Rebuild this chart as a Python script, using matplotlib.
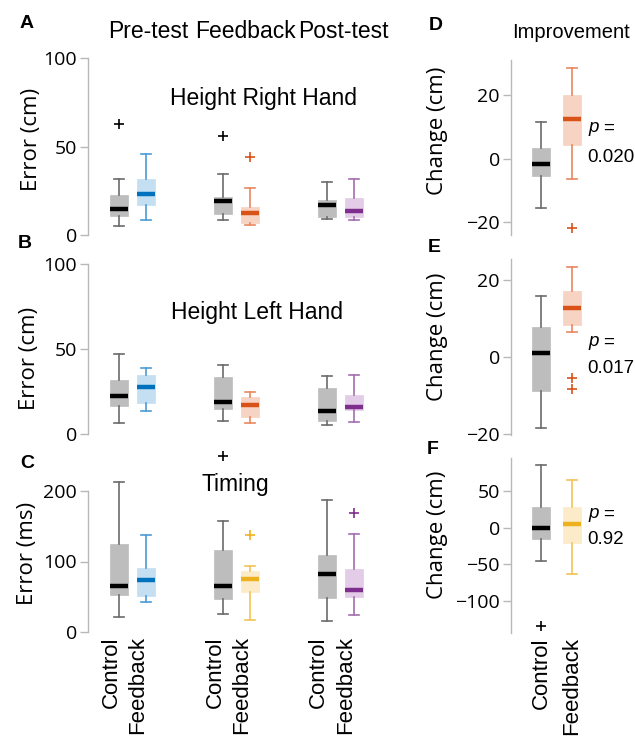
import matplotlib
matplotlib.use("Agg")
import matplotlib.pyplot as plt
from matplotlib.transforms import ScaledTranslation

plt.rcParams['font.family'] = ['Liberation Sans', 'DejaVu Sans']

# box summaries: (whisker low, q1, median, q3, whisker high, outliers)
# order: pre control, pre feedback, fb control, fb feedback, post control, post feedback
right_hand = [
    (5.1, 10.8, 14.9, 22.6, 31.5, [62.8]),
    (8.5, 17.0, 23.2, 31.5, 45.7, []),
    (8.5, 11.7, 19.2, 21.7, 34.3, [55.7]),
    (5.5, 7.0, 12.6, 16.0, 26.4, [44.3]),
    (9.2, 10.0, 16.8, 19.8, 30.2, []),
    (8.5, 10.4, 13.6, 21.1, 31.5, []),
]
left_hand = [
    (6.3, 16.4, 22.1, 31.5, 47.0, []),
    (13.7, 18.0, 27.8, 34.6, 39.1, []),
    (7.4, 14.9, 18.8, 33.3, 40.7, []),
    (6.7, 9.8, 16.8, 21.9, 25.0, []),
    (5.5, 7.4, 13.7, 27.0, 33.9, []),
    (7.2, 14.1, 15.9, 22.9, 34.6, []),
]
timing = [
    (21.7, 52.5, 65.7, 124.3, 212.3, []),
    (42.6, 51.0, 73.3, 90.3, 138.0, []),
    (26.0, 47.3, 65.2, 116.3, 157.4, [249.0]),
    (17.0, 56.7, 75.7, 86.5, 93.6, [137.6]),
    (16.0, 48.2, 82.3, 109.2, 187.7, []),
    (23.6, 50.0, 59.6, 88.9, 139.4, [168.3]),
]
# improvement: control, feedback
impr_right = [
    (-15.5, -5.4, -1.6, 3.5, 11.5, []),
    (-6.5, 4.3, 12.5, 20.0, 28.6, [-21.8]),
]
impr_left = [
    (-18.4, -9.0, 1.1, 7.7, 15.8, []),
    (6.5, 8.2, 12.8, 17.0, 23.3, [-5.5, -8.4]),
]
impr_timing = [
    (-45.5, -15.5, -1.0, 28.6, 85.5, [-133.6]),
    (-62.3, -20.5, 4.5, 27.7, 65.0, []),
]
p_values = ['0.020', '0.017', '0.92']

conditions = ['Pre-test', 'Feedback', 'Post-test']
groups = ['Control', 'Feedback']

GREY = ('#000000', '#bdbdbd', '#6b6b6b')
BLUE = ('#0072BD', '#c4dff2', '#4a9bd6')
ORANGE = ('#D95319', '#f7d3c3', '#e8875f')
YELLOW = ('#EDB120', '#fcebc8', '#f2c458')
PURPLE = ('#7E2F8E', '#e3cce7', '#a46db0')

HUMAN = ['Open Sans', 'DejaVu Sans']

W, H = 635, 738
fig = plt.figure(figsize=(W / 100, H / 100), dpi=100)


def rect(x0, y0, x1, y1):
    return [x0 / W, 1 - y1 / H, (x1 - x0) / W, (y1 - y0) / H]


def ftext(x, y, s, **kw):
    fig.text(x / W, 1 - y / H, s, **kw)


def draw_boxes(ax, data, positions, styles, width, capw):
    for (lo, q1, med, q3, hi, fl), pos, (mc, fc, wc) in zip(data, positions, styles):
        st = dict(whislo=lo, q1=q1, med=med, q3=q3, whishi=hi, fliers=fl)
        art = ax.bxp([st], positions=[pos], widths=width, capwidths=capw,
                     patch_artist=True, showfliers=True,
                     boxprops=dict(facecolor=fc, edgecolor=fc, linewidth=0.5),
                     medianprops=dict(color=mc, linewidth=3.2, solid_capstyle='butt'),
                     whiskerprops=dict(color=wc, linewidth=1.2),
                     capprops=dict(color=wc, linewidth=1.2),
                     flierprops=dict(marker='+', markeredgecolor=mc,
                                     markersize=7, markeredgewidth=1.2))
        for key in art:
            for a in art[key]:
                a.set_clip_on(False)


def style_axis(ax, ylim, yticks, xlim):
    ax.set_ylim(*ylim)
    ax.set_xlim(*xlim)
    ax.set_yticks(yticks)
    for s in ['top', 'right', 'bottom']:
        ax.spines[s].set_visible(False)
    ax.spines['left'].set_color('#b8b8b8')
    ax.spines['left'].set_linewidth(1.0)
    ax.tick_params(axis='y', direction='out', length=6, width=1.0,
                   color='#b8b8b8', labelsize=14, pad=2)
    for lab in ax.get_yticklabels():
        lab.set_family(HUMAN)
    ax.set_facecolor('none')


left_pos = [1, 2, 4.85, 5.85, 8.7, 9.7]
left_xlim = (-0.148, 10.52)
right_pos = [1, 2]
right_xlim = (0.032, 2.90)

axA = fig.add_axes(rect(88, 58, 376, 235))
axB = fig.add_axes(rect(88, 264, 376, 434))
axC = fig.add_axes(rect(88, 491, 376, 632))
axD = fig.add_axes(rect(511, 60, 600, 235))
axE = fig.add_axes(rect(511, 259, 600, 435))
axF = fig.add_axes(rect(511, 458, 600, 633))

draw_boxes(axA, right_hand, left_pos, [GREY, BLUE, GREY, ORANGE, GREY, PURPLE], 0.67, 0.37)
draw_boxes(axB, left_hand, left_pos, [GREY, BLUE, GREY, ORANGE, GREY, PURPLE], 0.67, 0.37)
draw_boxes(axC, timing, left_pos, [GREY, BLUE, GREY, YELLOW, GREY, PURPLE], 0.67, 0.37)
draw_boxes(axD, impr_right, right_pos, [GREY, ORANGE], 0.6, 0.32)
draw_boxes(axE, impr_left, right_pos, [GREY, ORANGE], 0.6, 0.32)
draw_boxes(axF, impr_timing, right_pos, [GREY, YELLOW], 0.6, 0.32)

style_axis(axA, (0, 100), [0, 50, 100], left_xlim)
style_axis(axB, (0, 100), [0, 50, 100], left_xlim)
style_axis(axC, (0, 200), [0, 100, 200], left_xlim)
style_axis(axD, (-24, 31), [-20, 0, 20], right_xlim)
style_axis(axE, (-20.3, 25.4), [-20, 0, 20], right_xlim)
style_axis(axF, (-143, 94.5), [-100, -50, 0, 50], right_xlim)

for ax in [axA, axB, axD, axE]:
    ax.set_xticks([])

axC.set_xticks(left_pos, groups * 3, rotation=90, fontsize=16, va='top')
axC.tick_params(axis='x', length=0, pad=3)
shift = ScaledTranslation(-8 / 100, 0, fig.dpi_scale_trans)
for lab in axC.get_xticklabels():
    lab.set_transform(lab.get_transform() + shift)
axF.set_xticks(right_pos, groups, rotation=90, fontsize=16, va='top')
axF.tick_params(axis='x', length=0, pad=3)

# column titles
for x, s in zip([148, 245, 343], conditions):
    ftext(x, 32, s, fontsize=16.5, ha='center', va='center')
ftext(571, 33, 'Improvement', fontsize=14.5, ha='center', va='center')

# panel titles
ftext(264, 99, 'Height Right Hand', fontsize=16.5, ha='center', va='center')
ftext(257, 312, 'Height Left Hand', fontsize=16.5, ha='center', va='center')
ftext(235, 484, 'Timing', fontsize=16.5, ha='center', va='center')

# y labels
ylab = dict(fontsize=16, rotation=90, ha='center', va='center', family=HUMAN)
ftext(31, 139, 'Error (cm)', **ylab)
ftext(29, 358, 'Error (cm)', **ylab)
ftext(28, 553, 'Error (ms)', **ylab)
ftext(438, 131, 'Change (cm)', **ylab)
ftext(438, 337, 'Change (cm)', **ylab)
ftext(438, 535, 'Change (cm)', **ylab)

# panel letters
for (x, y), s in zip([(27, 24), (25, 243), (27, 463), (436, 26), (434, 247), (433, 450)],
                     'ABCDEF'):
    ftext(x, y, s, fontsize=14, fontweight='bold', ha='center', va='center')

# p values
pv = dict(fontsize=13.5, ha='left', va='center')
for (y1, y2), p in zip([(128, 157), (342, 368), (514, 540)], p_values):
    ftext(588, y1, 'p', style='italic', **pv)
    ftext(603, y1, '=', **pv)
    ftext(587, y2, p, **pv)

fig.savefig('out.png', dpi=100)
